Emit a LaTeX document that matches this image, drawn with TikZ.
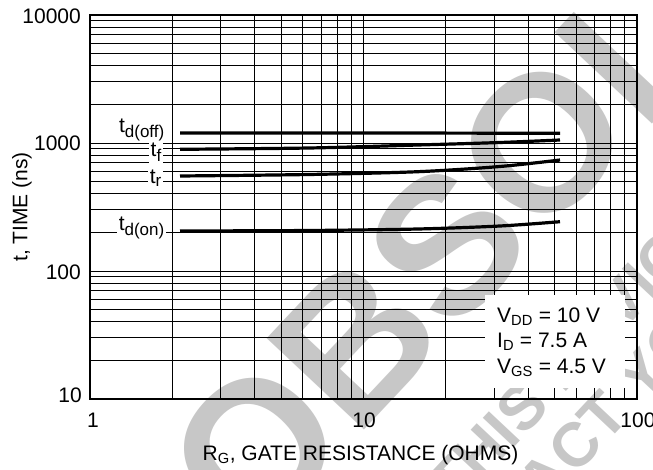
\documentclass[tikz,border=0pt]{standalone}
\usepackage{fontspec}
\setmainfont{Liberation Sans}
\usetikzlibrary{positioning}

\newcommand{\lsub}[1]{\textsubscript{\fontsize{17}{17}\selectfont #1}}

\begin{document}
\begin{tikzpicture}[
                x=1pt, y=-1pt,
                every node/.style={inner sep=0pt, font=\fontsize{21}{25}\selectfont},
                gridline/.style={line width=0.9pt},
                frame/.style={line width=1.8pt},
                curve/.style={line width=3.2pt},
                curvelabel/.style={fill=white, inner sep=1.5pt, anchor=east},
                ticklabel/.style={anchor=east},
                watermark/.style={rotate=46.8, anchor=base west, text=black!22}]
            \useasboundingbox (0,0) rectangle (653,470);

            % Filigrane
            \begin{scope}
                \clip (0,0) rectangle (653,470);
                \node[watermark, font=\fontsize{194}{194}\selectfont\bfseries] (obsolete) at (252,550) {OBSOLETE};
                \node[watermark, font=\fontsize{62}{62}\selectfont\bfseries] (device) at (454.6,510.4) {THIS DEVICE};
                \node[watermark, font=\fontsize{62}{62}\selectfont\bfseries] (contact) at (427.3,634.3) {CONTACT YOUR};
            \end{scope}

            % Grille
            \foreach \d in {0,1}
                \foreach \m in {2,...,9}
                    \draw[gridline] ({90+273.5*(\d+log10(\m))},15) -- ({90+273.5*(\d+log10(\m))},399);
            \draw[gridline] (363.5,15) -- (363.5,399);
            \foreach \d in {0,1,2}
                \foreach \m in {2,...,9}
                    \draw[gridline] (90,{399-128*(\d+log10(\m))}) -- (637,{399-128*(\d+log10(\m))});
            \draw[gridline] (90,271) -- (637,271);
            \draw[gridline] (90,143) -- (637,143);
            \draw[frame] (90,15) rectangle (637,399);

            % Courbes
            \draw[curve] plot[smooth] coordinates {(180,133) (370,133) (560,133.3)};
            \draw[curve] plot[smooth] coordinates {(180,149.3) (309,148) (418,145) (500,142.5) (560,140)};
            \draw[curve] plot[smooth] coordinates {(180,176) (309,174.5) (418,171.7) (500,166.5) (560,160)};
            \draw[curve] plot[smooth] coordinates {(180,231) (309,230.5) (418,229) (500,226) (560,221.7)};

            % Etiquettes des courbes
            \node[curvelabel] (tdoff) at (166.5,130) {t\lsub{d(off)}};
            \node[curvelabel] (tf) at (163.5,152) {t\lsub{f}};
            \node[curvelabel] (tr) at (163.5,178) {t\lsub{r}};
            \node[curvelabel] (tdon) at (166.5,228) {t\lsub{d(on)}};

            % Conditions
            \node[fill=white, anchor=north west, minimum width=140pt, minimum height=93pt] (legend) at (485,295) {};
            \node[anchor=base west] (vdd) at (497,322) {V\textsubscript{DD} = 10 V};
            \node[anchor=base west] (id) at (497,347) {I\textsubscript{D} = 7.5 A};
            \node[anchor=base west] (vgs) at (497,373) {V\textsubscript{GS} = 4.5 V};

            % Axes
            \node[ticklabel] (y10000) at (81,16) {10000};
            \node[ticklabel] (y1000) at (81,143) {1000};
            \node[ticklabel] (y100) at (81,272) {100};
            \node[ticklabel] (y10) at (82,395) {10};
            \node (x1) at (93,420) {1};
            \node (x10) at (364,420) {10};
            \node (x100) at (638,420) {100};
            \node[rotate=90] (ylabel) at (22,207) {t, TIME (ns)};
            \node[anchor=base] (xlabel) at (360.5,460) {R\textsubscript{G}, GATE RESISTANCE (OHMS)};

        \end{tikzpicture}
\end{document}
